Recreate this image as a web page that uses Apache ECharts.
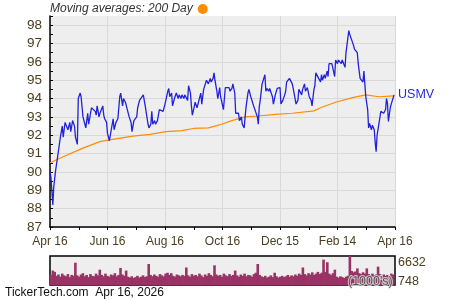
<!DOCTYPE html>
<html><head><meta charset="utf-8">
<script src="https://cdn.jsdelivr.net/npm/echarts@6/dist/echarts.min.js"></script>
<style>html,body{margin:0;padding:0;background:#fff}#c{width:450px;height:300px}</style>
</head><body><div id="c"></div>
<script>
// x-axis tick labels (one every 61 days from Apr 16, 2025)
const tickLabels = ['Apr 16','Jun 16','Aug 16','Oct 16','Dec 15','Feb 14','Apr 16'];
const tickStepDays = 61;
const ticker = 'USMV';
// closing prices: day offset from Apr 16 and value
const priceDays = [0,1,3,4,6,8,10,11,13,14,16,18,19,21,22,24,26,27,29,30,32,33,35,37,38,40,41,43,44,46,48,49,50,52,53,55,56,57,58,60,61,63,65,67,68,70,72,74,75,77,78,80,81,83,84,86,87,89,90,92,93,95,96,97,99,101,102,104,105,107,108,109,111,112,114,115,116,118,120,121,122,125,126,127,129,130,132,133,134,136,137,139,140,142,143,144,146,147,149,150,151,153,154,156,157,158,160,161,163,164,166,167,168,170,171,173,174,175,177,178,180,181,183,184,186,187,188,190,191,193,194,196,197,199,200,201,203,204,206,207,208,210,211,213,214,216,217,218,220,221,222,223,225,226,228,229,230,232,233,235,236,237,239,241,242,244,245,246,247,249,250,251,253,254,256,257,258,260,261,263,264,266,267,268,270,271,273,274,275,277,278,280,281,282,284,285,287,288,289,291,292,294,295,296,298,299,301,302,303,305,306,308,309,310,312,313,314,315,317,318,320,321,322,323,325,326,327,329,330,332,333,334,335,337,338,339,341,342,344,345,346,347,349,350,351,353,354,356,357,358,359,361,362,363,365];
const priceValues = [90.0,89.7,88.2,89.2,90.1,90.8,90.7,91.9,92.5,91.9,92.7,92.6,92.3,92.7,92.2,92.8,92.5,91.9,91.5,94.0,94.3,94.1,93.0,92.6,92.4,93.2,92.6,93.2,93.5,93.6,93.3,93.1,93.6,93.0,93.2,93.1,93.6,93.1,92.9,92.7,92.1,91.7,91.8,92.9,92.3,92.7,92.9,94.1,94.3,93.6,94.0,93.8,93.6,93.5,93.0,92.7,92.2,92.8,92.9,93.0,93.5,93.9,93.8,94.0,94.2,93.6,93.5,92.6,92.4,92.6,93.3,92.6,92.8,92.6,92.8,92.7,93.4,93.3,93.3,93.4,93.7,94.4,94.55,94.1,94.3,93.6,94.0,93.9,94.3,94.0,94.2,94.0,94.2,94.0,94.2,94.1,93.9,94.7,94.3,93.6,93.1,93.55,93.8,93.5,93.6,93.9,94.3,93.7,94.5,94.55,95.0,95.1,94.8,95.1,94.9,95.1,95.4,95.0,94.4,94.0,94.6,94.1,94.0,93.4,94.6,94.5,94.7,94.6,94.4,94.55,94.8,94.3,93.2,93.1,93.2,92.8,93.0,92.6,92.4,93.0,93.55,94.3,94.5,94.1,94.1,93.6,93.5,93.7,93.0,92.6,93.55,93.9,94.8,94.9,95.3,94.4,94.55,94.4,94.55,94.5,94.1,93.7,94.2,94.55,94.6,94.6,93.7,93.75,93.9,94.2,94.4,94.9,95.0,95.1,95.0,94.8,94.55,94.0,93.7,93.9,94.5,94.4,94.2,94.5,94.8,94.4,94.6,94.5,94.1,93.9,93.6,94.5,94.7,95.4,95.5,95.1,94.9,95.3,95.0,95.3,95.1,95.5,95.2,95.9,96.0,95.9,96.0,95.2,96.1,95.9,96.1,96.0,95.9,96.1,96.2,95.7,96.5,96.9,97.7,97.5,97.2,97.25,96.9,96.7,96.6,96.5,95.9,95.1,95.0,94.9,95.5,94.8,94.1,93.4,92.4,92.65,92.3,92.55,92.3,91.6,91.1,92.0,92.65,92.75,93.3,93.4,93.2,93.4,94.0,93.75,92.75,93.5,93.7,93.75,94.2];
// 200-day moving average
const maDays = [0,17,35,53,63,88,106,123,140,152,168,175,182,193,207,221,239,257,280,287,303,321,335,349,365];
const maValues = [90.5,90.9,91.3,91.65,91.75,91.95,92.05,92.2,92.25,92.37,92.4,92.5,92.6,92.8,93.0,93.05,93.14,93.2,93.33,93.5,93.8,94.05,94.2,94.1,94.15];
// volume in thousands, one bar per 2 days
const volumeStepDays = 2;
const volumeValues = [2300,3300,3000,2100,2400,1900,2600,2200,2000,2500,1800,2300,2100,
5100,
2200,1900,2400,2700,2000,2300,1800,2500,2100,2000,2600,2200,
3500,
2300,2000,2600,2100,1900,2400,2200,2700,2000,2300,
3900,2400,2100,3300,
1900,1700,2000,1600,1800,2100,1700,1900,2200,1800,2000,
4800,
2300,2000,2400,2100,1900,2500,2200,2000,2600,2800,2300,2700,2100,1900,2400,2200,2000,2300,2100,
4000,
2200,1900,2500,2100,2300,2000,2600,2200,1800,2400,2100,2700,2300,2000,
4500,
2400,2100,2300,1900,2600,2200,2000,2500,2100,2300,
3300,
2200,1900,2400,2100,2600,2000,2300,2200,1900,2500,2800,
4800,
2300,2000,1800,2100,1700,1900,2200,1800,2800,2000,1700,1900,2100,1800,2000,2300,1900,2200,2000,2400,2100,2600,2300,
4000,
2500,2200,2700,2400,2900,2300,2600,3000,2500,2800,
5800,3000,5200,
2600,2300,2700,
3500,
1900,1700,2000,1800,1600,1900,2100,
6632,
3200,2900,3100,
3800,
2700,2500,2900,2600,
3800,
2500,2300,2600,2200,2400,
4200,
2500,2200,2400,2100,2300,2000,2600,2400];
const volumeLabels = [748, 6632];
const yMin = 87, yMax = 98.5;

const labelColor = '#4b3d1e';
const font = '"Liberation Sans", Arial, sans-serif';
const chart = echarts.init(document.getElementById('c'), null, {renderer: 'canvas'});
const xMax = tickStepDays * (tickLabels.length - 1);

chart.setOption({
  animation: false,
  backgroundColor: '#ffffff',
  textStyle: {fontFamily: font},
  legend: {
    left: 45, top: 1, padding: [2, 5],
    align: 'right',
    data: [{name: 'MA', icon: 'circle'}],
    itemWidth: 10, itemHeight: 10,
    formatter: () => 'Moving averages: 200 Day',
    textStyle: {fontStyle: 'italic', fontSize: 12, color: '#333333', fontFamily: font},
    selectedMode: false
  },
  graphic: [
    {type: 'text', left: 347, top: 274, z: 100,
     style: {text: "(1000's)", fontSize: 12.5, fontFamily: font, fill: '#555555', stroke: 'rgba(230,230,230,0.8)', lineWidth: 2}},
    {type: 'text', left: 5, top: 287,
     style: {text: 'TickerTech.com  Apr 16, 2026', fontSize: 12, fontFamily: font, fill: '#111111'}}
  ],
  grid: [
    {left: 50, right: 55, top: 16, bottom: 73, show: true, backgroundColor: '#eeeeee', borderWidth: 0},
    {left: 50, right: 55, top: 256, height: 29, show: true, backgroundColor: '#eeeeee', borderColor: '#000', borderWidth: 1.5}
  ],
  xAxis: [
    {type: 'value', gridIndex: 0, min: 0, max: xMax, interval: tickStepDays,
     axisLine: {show: true, onZero: false, lineStyle: {color: '#000', width: 1.5}},
     axisTick: {show: true, length: 3, lineStyle: {color: '#000'}},
     minorTick: {show: true, splitNumber: 2, length: 3, lineStyle: {color: '#000'}},
     splitLine: {show: true, lineStyle: {color: '#d9d9d9', width: 1}},
     axisLabel: {color: labelColor, fontSize: 12, margin: 9, fontFamily: font,
       formatter: v => tickLabels[Math.round(v / tickStepDays)] || ''}},
    {type: 'value', gridIndex: 1, min: -1, max: xMax, show: false}
  ],
  yAxis: [
    {type: 'value', gridIndex: 0, min: yMin, max: yMax, interval: 1,
     axisLine: {show: true, lineStyle: {color: '#000', width: 1.5}},
     axisTick: {show: true, inside: true, length: 3, lineStyle: {color: '#000'}},
     minorTick: {show: true, splitNumber: 2, length: 3, lineStyle: {color: '#000'}},
     splitLine: {show: true, showMaxLine: false, lineStyle: {color: '#d9d9d9', width: 1}},
     axisLabel: {color: labelColor, fontSize: 13.5, margin: 8, fontFamily: font, showMaxLabel: false,
       formatter: v => (Number.isInteger(v) ? String(v) : '')}},
    {type: 'value', gridIndex: 1, position: 'right', min: 0, max: 6632,
     axisLine: {show: false}, axisTick: {show: false}, splitLine: {show: false},
     axisLabel: {show: true, color: labelColor, fontSize: 12.5, margin: 3, fontFamily: font,
       customValues: volumeLabels,
       formatter: v => (v === 6632 ? '{t|' + v + '}' : '{b|' + v + '}'),
       rich: {t: {padding: [14, 0, 0, 0], fontSize: 12.5, color: labelColor, fontFamily: font},
              b: {fontSize: 12.5, color: labelColor, fontFamily: font}}}}
  ],
  series: [
    {name: 'MA', type: 'line', xAxisIndex: 0, yAxisIndex: 0, symbol: 'none',
     itemStyle: {color: '#ff8c00'},
     lineStyle: {color: '#ff8c00', width: 1.2},
     data: maDays.map((d, i) => [d, maValues[i]]), z: 3},
    {name: ticker, type: 'line', xAxisIndex: 0, yAxisIndex: 0, symbol: 'none',
     lineStyle: {color: '#2222dd', width: 1.3},
     endLabel: {show: true, formatter: ticker, color: '#2b2bd0', fontSize: 12.5, distance: 4, fontFamily: font},
     data: priceDays.map((d, i) => [d, priceValues[i]]), z: 4},
    {name: 'Volume', type: 'bar', xAxisIndex: 1, yAxisIndex: 1, barWidth: 2.6,
     itemStyle: {color: '#993366'},
     data: volumeValues.map((v, i) => [i * volumeStepDays, v])}
  ]
});
</script></body></html>
